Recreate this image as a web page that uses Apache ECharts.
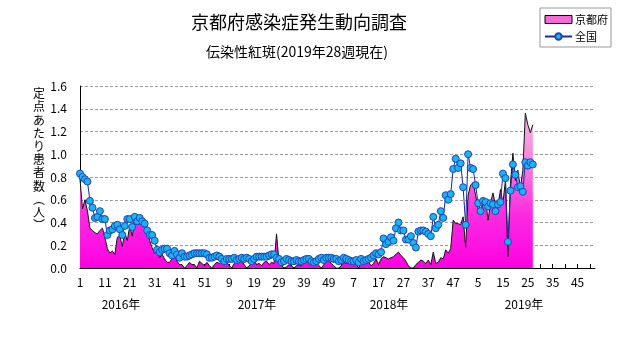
<!DOCTYPE html>
<html><head><meta charset="utf-8">
<script src="https://cdn.jsdelivr.net/npm/echarts@6/dist/echarts.min.js"></script>
<style>html,body{margin:0;padding:0;background:#fff}#c{width:631px;height:347px}</style>
</head><body><div id="c"></div>
<script>
const years = [2016, 2017, 2018, 2019];
const weeksPerYear = 52;
const yearLabels = ['2016年', '2017年', '2018年', '2019年'];
const titleText = '京都府感染症発生動向調査';
const subtitleText = '伝染性紅斑(2019年28週現在)';
const yAxisNameChars = ['定','点','あ','た','り','患','者','数','︵','人','︶'];
const seriesNames = ['京都府', '全国'];

const kyoto2016 = [0.78,0.52,0.60,0.50,0.35,0.33,0.31,0.30,0.33,0.35, 0.27,0.17,0.13,0.15,0.12,0.27,0.28,0.19,0.31,0.24, 0.37,0.28,0.41,0.43,0.43,0.42,0.41,0.33,0.24,0.18, 0.13,0.16,0.09,0.12,0.08,0.05,0.05,0.08,0.12,0.06, 0.03,0.03,0.00,0.02,0.05,0.03,0.03,0.00,0.06,0.04, 0.02,0.05];
const kyoto2017 = [0.02,0.00,0.03,0.05,0.04,0.06,0.03,0.05,0.02,0.00, 0.04,0.07,0.05,0.06,0.03,0.00,0.02,0.04,0.07,0.03, 0.04,0.02,0.05,0.06,0.03,0.05,0.04,0.30,0.05,0.02, 0.00,0.01,0.03,0.02,0.00,0.02,0.03,0.02,0.05,0.06, 0.04,0.03,0.06,0.05,0.02,0.00,0.03,0.06,0.07,0.04, 0.02,0.00];
const kyoto2018 = [0.00,0.02,0.05,0.04,0.06,0.07,0.05,0.03,0.00,0.05, 0.07,0.04,0.05,0.02,0.04,0.08,0.03,0.08,0.10,0.09, 0.08,0.09,0.10,0.12,0.14,0.11,0.09,0.06,0.02,0.00, 0.00,0.03,0.05,0.07,0.06,0.04,0.07,0.03,0.14,0.04, 0.05,0.09,0.08,0.16,0.13,0.17,0.42,0.39,0.39,0.38, 0.45,0.18];
const kyoto2019 = [0.64,0.73,0.75,0.64,0.52,0.48,0.58,0.60,0.42,0.57, 0.66,0.55,0.54,0.69,0.57,0.77,0.10,0.74,1.01,0.77, 0.86,0.70,0.86,1.36,1.26,1.19,1.26];

const national2016 = [0.83,0.80,0.78,0.76,0.59,0.53,0.44,0.45,0.50,0.43, 0.43,0.29,0.33,0.34,0.37,0.38,0.34,0.29,0.37,0.43, 0.43,0.36,0.45,0.41,0.44,0.41,0.39,0.33,0.29,0.29, 0.24,0.16,0.14,0.16,0.17,0.17,0.13,0.11,0.15,0.12, 0.09,0.13,0.10,0.10,0.11,0.12,0.13,0.13,0.13,0.13, 0.13,0.12];
const national2017 = [0.09,0.09,0.10,0.11,0.10,0.08,0.06,0.08,0.08,0.08, 0.09,0.07,0.08,0.09,0.08,0.09,0.08,0.06,0.08,0.10, 0.10,0.10,0.10,0.10,0.11,0.12,0.12,0.09,0.08,0.05, 0.06,0.08,0.07,0.06,0.06,0.07,0.06,0.06,0.07,0.08, 0.08,0.06,0.05,0.06,0.08,0.09,0.07,0.09,0.09,0.09, 0.08,0.08];
const national2018 = [0.06,0.07,0.09,0.08,0.07,0.06,0.06,0.07,0.05,0.08, 0.06,0.07,0.08,0.09,0.11,0.13,0.12,0.14,0.26,0.21, 0.23,0.27,0.24,0.35,0.40,0.33,0.33,0.25,0.25,0.28, 0.22,0.18,0.32,0.33,0.33,0.32,0.30,0.28,0.45,0.35, 0.38,0.50,0.44,0.64,0.60,0.65,0.87,0.96,0.88,0.92, 0.71,0.38];
const national2019 = [1.00,0.88,0.87,0.73,0.57,0.50,0.59,0.58,0.54,0.57, 0.56,0.50,0.56,0.58,0.83,0.79,0.23,0.68,0.91,0.82, 0.71,0.72,0.67,0.93,0.90,0.93,0.91];

const categories = [];
years.forEach(y => { for (let w = 1; w <= weeksPerYear; w++) categories.push(y + '-' + w); });
const kyoto = [].concat(kyoto2016, kyoto2017, kyoto2018, kyoto2019);
const national = [].concat(national2016, national2017, national2018, national2019);

const FONT = '"Noto Sans CJK JP", "Noto Sans", sans-serif';
const chart = echarts.init(document.getElementById('c'), null, {renderer: 'canvas'});
const areaGrad = {type: 'linear', x: 0, y: 0, x2: 0, y2: 1, colorStops: [
  {offset: 0, color: '#F9B8E2'}, {offset: 0.35, color: '#F67BDA'},
  {offset: 0.65, color: '#FB2CE0'}, {offset: 1, color: '#FF00E2'}]};
const yearLabelGraphics = yearLabels.map((t, k) => ({
  type: 'text', x: [121, 257, 389, 524][k], y: 304,
  style: {text: t, fontSize: 12, fontFamily: FONT, fill: '#000', align: 'center', verticalAlign: 'middle', textAlign: 'center', textVerticalAlign: 'middle'}
}));

chart.setOption({
  animation: false,
  backgroundColor: '#fff',
  textStyle: {fontFamily: FONT},
  grid: {left: 80, right: 36, top: 86, bottom: 79},
  legend: {
    orient: 'vertical', left: 540, top: 8,
    padding: [6, 3, 5, 4], itemGap: 6, itemWidth: 27, itemHeight: 8,
    borderColor: '#999', borderWidth: 1, backgroundColor: '#fff',
    textStyle: {fontSize: 11, color: '#000', fontFamily: FONT, padding: [0, 0, 0, -2]},
    data: [
      {name: seriesNames[0], icon: 'rect', itemStyle: {color: '#F46AD8', borderColor: '#000', borderWidth: 1}},
      {name: seriesNames[1]}
    ]
  },
  xAxis: {
    type: 'category', data: categories, boundaryGap: false,
    axisLine: {lineStyle: {color: '#000', width: 1}},
    axisTick: {show: true, inside: true, length: 4, interval: 4, lineStyle: {color: '#000'}},
    axisLabel: {interval: 9, margin: 8, fontSize: 12, color: '#000', fontFamily: FONT,
      formatter: v => v.split('-')[1]},
    splitLine: {show: false}
  },
  yAxis: {
    type: 'value', min: 0, max: 1.6, interval: 0.2,
    axisLine: {show: true, lineStyle: {color: '#000', width: 1}},
    axisTick: {show: false},
    axisLabel: {margin: 13, fontSize: 12, color: '#000', fontFamily: FONT, formatter: v => v.toFixed(1)},
    splitLine: {show: true, lineStyle: {color: '#9a9a9a', type: [3, 2], width: 1}}
  },
  series: [
    {
      name: seriesNames[0], type: 'line', data: kyoto, symbol: 'none',
      lineStyle: {color: '#111', width: 1},
      itemStyle: {color: '#F46AD8'},
      areaStyle: {color: areaGrad, opacity: 1},
      z: 2
    },
    {
      name: seriesNames[1], type: 'line', data: national,
      symbol: 'circle', symbolSize: 7, showSymbol: true, showAllSymbol: true,
      lineStyle: {color: '#1E2A9C', width: 1},
      itemStyle: {color: '#1BB3F2', borderColor: '#1A46B8', borderWidth: 1},
      z: 3
    }
  ],
  graphic: [
    {type: 'text', x: 299, y: 22, style: {text: titleText, fontSize: 18, fontFamily: FONT, fill: '#000',
      align: 'center', verticalAlign: 'middle', textAlign: 'center', textVerticalAlign: 'middle'}},
    {type: 'text', x: 297, y: 52, style: {text: subtitleText, fontSize: 14, fontFamily: FONT, fill: '#000',
      align: 'center', verticalAlign: 'middle', textAlign: 'center', textVerticalAlign: 'middle'}},
    {type: 'text', x: 39, y: 87, style: {text: yAxisNameChars.join('\n'), fontSize: 12, lineHeight: 13.2,
      fontFamily: FONT, fill: '#000', align: 'center', verticalAlign: 'top', textAlign: 'center', textVerticalAlign: 'top'}}
  ].concat(yearLabelGraphics)
});
</script></body></html>
